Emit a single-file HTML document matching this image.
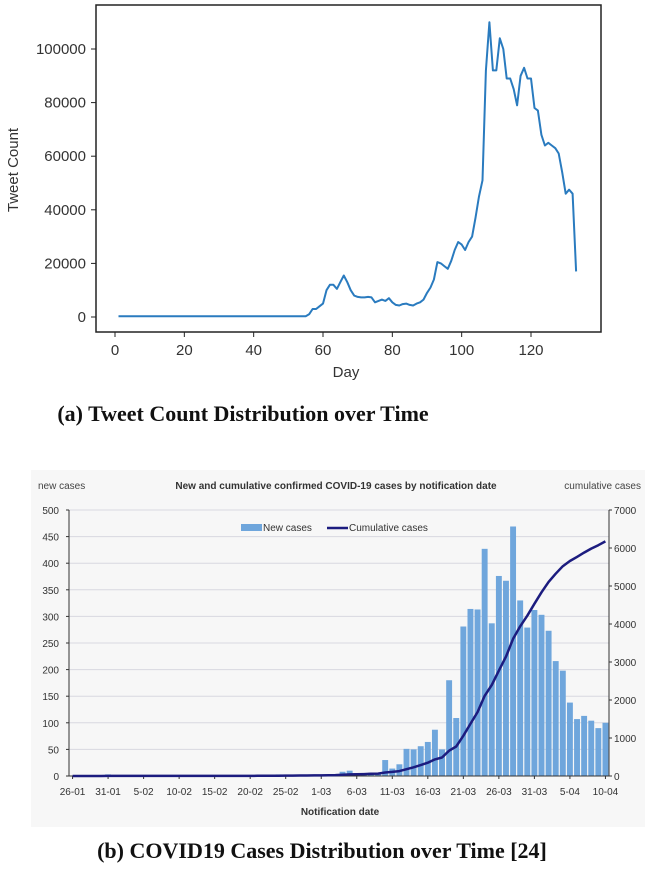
<!DOCTYPE html>
<html><head><meta charset="utf-8"><style>
body{margin:0;background:#fff;width:645px;height:871px;overflow:hidden}
svg{position:absolute;left:0;top:0}
</style></head><body>
<svg width="645" height="871" font-family="Liberation Sans, sans-serif">
<g id="top"></g>
<g id="bot"></g>
<text x="243" y="421" text-anchor="middle" font-family="Liberation Serif, serif" font-weight="bold" font-size="22" fill="#111">(a) Tweet Count Distribution over Time</text>
<text x="322" y="858" text-anchor="middle" font-family="Liberation Serif, serif" font-weight="bold" font-size="22" fill="#111">(b) COVID19 Cases Distribution over Time [24]</text>
</svg>
<script>
const NS='http://www.w3.org/2000/svg';
// ---- Tweet chart data ----
const tweetDays=[1,55,56,57,58,59,60,61,62,63,64,65,66,67,68,69,70,71,72,73,74,75,76,77,78,79,80,81,82,83,84,85,86,87,88,89,90,91,92,93,94,95,96,97,98,99,100,101,102,103,104,105,106,107,108,109,110,111,112,113,114,115,116,117,118,119,120,121,122,123,124,125,126,127,128,129,130,131,132,133];
const tweetCounts=[300,300,1000,3000,3000,4000,5000,10000,12000,12000,10500,13000,15500,13000,10000,8000,7500,7300,7300,7500,7300,5500,6000,6500,6000,7000,5500,4500,4300,4800,5000,4500,4300,5000,5500,6500,9000,11000,14000,20500,20000,19000,18000,21000,25000,28000,27000,25000,28000,30000,37000,45000,51000,92000,110000,92000,92000,104000,100000,89000,89000,85000,79000,90000,93000,89000,89000,78000,77000,68000,64000,65000,64000,63000,61000,54000,46000,47500,46000,17000];
const tweetXTicks=[0,20,40,60,80,100,120];
const tweetYTicks=[0,20000,40000,60000,80000,100000];
// ---- COVID chart data ----
const dateLabels=['26-01','31-01','5-02','10-02','15-02','20-02','25-02','1-03','6-03','11-03','16-03','21-03','26-03','31-03','5-04','10-04'];
const newCases=[0,0,0,0,0,3,0,0,0,0,0,0,0,0,0,0,0,0,0,0,0,0,0,0,0,0,1,1,1,3,1,1,1,1,2,2,3,3,8,10,5,5,6,6,30,14,22,51,50,56,64,87,50,180,109,281,314,313,427,287,376,367,469,330,279,312,303,273,216,198,138,107,113,104,90,100];
const leftTicks=[0,50,100,150,200,250,300,350,400,450,500];
const rightTicks=[0,1000,2000,3000,4000,5000,6000,7000];

function el(tag,attrs,parent,txt){const e=document.createElementNS(NS,tag);for(const k in attrs)e.setAttribute(k,attrs[k]);if(txt!==undefined)e.textContent=txt;parent.appendChild(e);return e;}

// ---- top chart ----
(function(){
const g=document.getElementById('top');
const X=d=>115+d*(531-115)/120, Y=v=>317-v*(317-49)/100000;
el('rect',{x:96,y:5,width:505,height:327,fill:'none',stroke:'#222','stroke-width':1.5},g);
tweetXTicks.forEach(t=>{
  el('line',{x1:X(t),x2:X(t),y1:332,y2:337,stroke:'#222'},g);
  const tx=el('text',{x:X(t),y:355,'text-anchor':'middle','font-size':15,fill:'#333'},g,t);
  
  
});
tweetYTicks.forEach(t=>{
  el('line',{x1:91,x2:96,y1:Y(t),y2:Y(t),stroke:'#222'},g);
  const tx=el('text',{x:86,y:Y(t)+5,'text-anchor':'end','font-size':15,fill:'#333'},g,t);
  
  
});
const xt=el('text',{x:346,y:377,'text-anchor':'middle','font-size':15,fill:'#333'},g,'Day');


const yt=el('text',{x:0,y:0,transform:'translate(18,170) rotate(-90)','text-anchor':'middle','font-size':15,fill:'#333'},g,'Tweet Count');


const pts=tweetDays.map((d,i)=>X(d).toFixed(1)+','+Y(tweetCounts[i]).toFixed(1)).join(' ');
const pl=el('polyline',{points:pts,fill:'none',stroke:'#2a7bbf','stroke-width':2,'stroke-linejoin':'round'},g);


})();

// ---- bottom chart ----
(function(){
const g=document.getElementById('bot');
const L=69,R=609,B=776,T=510,n=newCases.length,bw=(R-L)/n;
const Yl=v=>B-v*(B-T)/500, Yr=v=>B-v*(B-T)/7000, Xc=i=>L+(i+0.5)*bw;
el('rect',{x:31,y:470,width:614,height:357,fill:'#f7f7f7'},g);
leftTicks.forEach(t=>{
  if(t>0) el('line',{x1:L,x2:R,y1:Yl(t),y2:Yl(t),stroke:'#d8d8e0','stroke-width':1},g);
  el('line',{x1:L-3,x2:L,y1:Yl(t),y2:Yl(t),stroke:'#333'},g);
  const tx=el('text',{x:59,y:Yl(t)+4,'text-anchor':'end','font-size':10,fill:'#333'},g,t);
  
  
});
rightTicks.forEach(t=>{
  el('line',{x1:R,x2:R+3,y1:Yr(t),y2:Yr(t),stroke:'#333'},g);
  const tx=el('text',{x:614,y:Yr(t)+4,'font-size':10,fill:'#333'},g,t);
  
  
});
newCases.forEach((v,i)=>{
  if(v<=0)return;
  const r=el('rect',{x:L+i*bw+0.6,y:Yl(v),width:bw-1.2,height:B-Yl(v),fill:'#6fa6dc'},g);
  
  
});
el('line',{x1:L,x2:L,y1:T,y2:B,stroke:'#333'},g);
el('line',{x1:R,x2:R,y1:T,y2:B,stroke:'#333'},g);
el('line',{x1:L,x2:R,y1:B,y2:B,stroke:'#333'},g);
dateLabels.forEach((lab,k)=>{
  const x=Xc(k*5);
  el('line',{x1:x,x2:x,y1:B,y2:B+3,stroke:'#333'},g);
  const tx=el('text',{x:x,y:795,'text-anchor':'middle','font-size':10,fill:'#333'},g,lab);
  
  
});
let c=0;const pts=newCases.map((v,i)=>{c+=v;return Xc(i).toFixed(1)+','+Yr(c).toFixed(1);}).join(' ');
const pl=el('polyline',{points:pts,fill:'none',stroke:'#1c1c7f','stroke-width':2.5,'stroke-linejoin':'round'},g);


// texts
const t1=el('text',{x:38,y:489,'font-size':10,fill:'#444'},g,'new cases');


const t2=el('text',{x:641,y:489,'text-anchor':'end','font-size':10,fill:'#444'},g,'cumulative cases');


const t3=el('text',{x:336,y:489,'text-anchor':'middle','font-size':10,'font-weight':'bold',fill:'#333'},g,'New and cumulative confirmed COVID-19 cases by notification date');


const t4=el('text',{x:340,y:815,'text-anchor':'middle','font-size':10,'font-weight':'bold',fill:'#333'},g,'Notification date');


// legend
const lg=el('g',{},g);


el('rect',{x:241,y:524,width:21,height:7,fill:'#6fa6dc'},lg);
el('text',{x:263,y:531,'font-size':10,fill:'#333'},lg,'New cases');
el('line',{x1:327,x2:348,y1:528,y2:528,stroke:'#1c1c7f','stroke-width':2.5},lg);
el('text',{x:349,y:531,'font-size':10,fill:'#333'},lg,'Cumulative cases');
})();
</script>
</body></html>
